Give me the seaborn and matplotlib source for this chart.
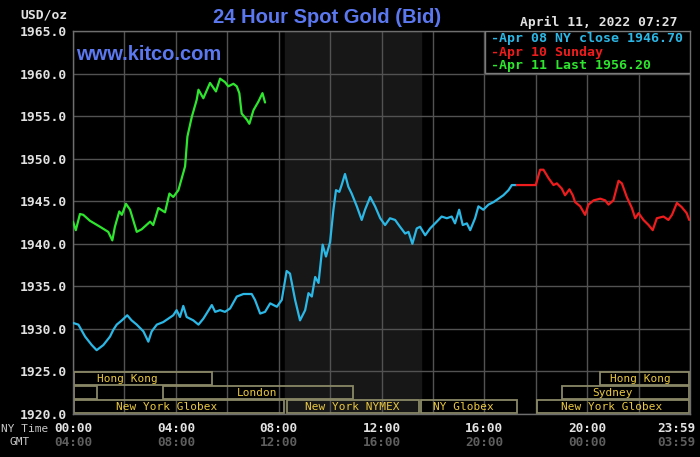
import numpy as np
import pandas as pd
import seaborn as sns
import matplotlib.pyplot as plt
from matplotlib.patches import Rectangle

# price series (hour of NY day, USD/oz)
apr08_hours = [0.0, 0.21, 0.47, 0.73, 0.92, 1.18, 1.44, 1.57, 1.7, 1.9, 2.11, 2.28, 2.48, 2.74,
               2.93, 3.06, 3.26, 3.51, 3.9, 4.03, 4.16, 4.29, 4.42, 4.68, 4.88, 5.07, 5.4, 5.53,
               5.72, 5.91, 6.11, 6.37, 6.63, 6.95, 7.08, 7.28, 7.47, 7.67, 7.93, 8.12, 8.31, 8.44,
               8.64, 8.83, 9.03, 9.16, 9.29, 9.42, 9.55, 9.71, 9.84, 10.0, 10.13, 10.23, 10.36,
               10.45, 10.58, 10.71, 10.84, 11.04, 11.23, 11.36, 11.56, 11.75, 11.95, 12.14, 12.33,
               12.53, 12.72, 12.92, 13.05, 13.2, 13.37, 13.5, 13.7, 13.89, 14.15, 14.34, 14.54,
               14.73, 14.86, 15.02, 15.16, 15.32, 15.45, 15.64, 15.77, 15.96, 16.16, 16.36, 16.55,
               16.74, 16.94, 17.07, 17.26]
apr08_price = [1930.7, 1930.5, 1929.1, 1928.1, 1927.5, 1928.1, 1929.1, 1929.9, 1930.5, 1931.0,
               1931.6, 1931.0, 1930.5, 1929.7, 1928.5, 1929.7, 1930.5, 1930.8, 1931.6, 1932.2,
               1931.4, 1932.7, 1931.4, 1931.0, 1930.5, 1931.2, 1932.8, 1932.0, 1932.2, 1932.0,
               1932.4, 1933.8, 1934.1, 1934.1, 1933.4, 1931.8, 1932.0, 1933.0, 1932.6, 1933.4,
               1936.8, 1936.5, 1933.4, 1931.0, 1932.2, 1934.2, 1933.8, 1936.1, 1935.4, 1939.9,
               1938.5, 1940.2, 1944.0, 1946.3, 1946.1, 1946.9, 1948.2, 1946.7, 1945.9, 1944.4,
               1942.8, 1944.0, 1945.5, 1944.4, 1943.0, 1942.2, 1943.0, 1942.8, 1942.0, 1941.2,
               1941.4, 1940.0, 1941.8, 1942.0, 1941.0, 1941.8, 1942.6, 1943.2, 1943.0, 1943.2,
               1942.4, 1944.0, 1942.2, 1942.4, 1941.6, 1943.0, 1944.4, 1944.0, 1944.6, 1944.9,
               1945.3, 1945.7, 1946.3, 1946.9, 1946.9]

apr10_hours = [17.26, 18.0, 18.17, 18.3, 18.5, 18.69, 18.82, 19.01, 19.14, 19.31, 19.44, 19.53,
               19.73, 19.92, 20.05, 20.25, 20.51, 20.7, 20.83, 21.02, 21.22, 21.35, 21.54, 21.74,
               21.87, 22.0, 22.19, 22.39, 22.55, 22.71, 22.97, 23.16, 23.3, 23.49, 23.68, 23.87,
               23.97]
apr10_price = [1946.9, 1946.9, 1948.7, 1948.7, 1947.7, 1946.9, 1947.1, 1946.5, 1945.7, 1946.4,
               1945.7, 1944.9, 1944.4, 1943.4, 1944.6, 1945.1, 1945.3, 1945.1, 1944.6, 1945.1,
               1947.4, 1947.1, 1945.5, 1944.2, 1943.0, 1943.6, 1942.8, 1942.2, 1941.6, 1943.0,
               1943.2, 1942.8, 1943.4, 1944.8, 1944.3, 1943.6, 1942.8]

apr11_hours = [0.0, 0.11, 0.27, 0.4, 0.66, 1.05, 1.37, 1.53, 1.63, 1.8, 1.9, 2.06, 2.22, 2.48,
               2.67, 3.0, 3.12, 3.32, 3.58, 3.75, 3.9, 4.1, 4.36, 4.45, 4.62, 4.81, 4.88, 5.07,
               5.33, 5.56, 5.72, 5.91, 6.04, 6.24, 6.37, 6.47, 6.56, 6.76, 6.86, 7.02, 7.21, 7.37,
               7.47]
apr11_price = [1942.6, 1941.6, 1943.5, 1943.4, 1942.7, 1942.0, 1941.4, 1940.4, 1942.0, 1943.8,
               1943.4, 1944.7, 1944.0, 1941.4, 1941.7, 1942.6, 1942.2, 1944.2, 1943.7, 1945.9,
               1945.5, 1946.3, 1949.1, 1952.6, 1954.9, 1956.9, 1958.1, 1957.1, 1958.9, 1957.9,
               1959.4, 1959.0, 1958.5, 1958.8, 1958.5, 1957.7, 1955.3, 1954.6, 1954.1, 1955.7,
               1956.7, 1957.7, 1956.6]

series_names = ["Apr 08", "Apr 10", "Apr 11"]
series_colors = ["#2bb8e6", "#ee1c1c", "#2ee62e"]
legend_labels = ["-Apr 08 NY close 1946.70", "-Apr 10 Sunday", "-Apr 11 Last 1956.20"]

# trading sessions: (label, start hour, end hour, row, label centre hour)
sessions = [
    ("Hong Kong", 0.0, 5.45, 2, 2.1),
    ("", 0.0, 0.97, 1, None),
    ("London", 3.47, 10.95, 1, 7.16),
    ("New York Globex", 0.0, 8.25, 0, 3.66),
    ("New York NYMEX", 8.3, 13.5, 0, 10.86),
    ("NY Globex", 13.5, 17.32, 0, 15.18),
    ("Hong Kong", 20.47, 24.0, 2, 22.06),
    ("Sydney", 19.0, 24.0, 1, 20.97),
    ("New York Globex", 18.0, 24.0, 0, 20.97),
]
nymex_open, nymex_close = 8.25, 13.54

tick_hours = [0, 4, 8, 12, 16, 20, 23.983]
ny_labels = ["00:00", "04:00", "08:00", "12:00", "16:00", "20:00", "23:59"]
gmt_labels = ["04:00", "08:00", "12:00", "16:00", "20:00", "00:00", "03:59"]

df = pd.concat([
    pd.DataFrame({"hour": h, "price": p, "day": n})
    for h, p, n in zip([apr08_hours, apr10_hours, apr11_hours],
                       [apr08_price, apr10_price, apr11_price], series_names)
])

sns.set_theme(style="darkgrid", rc={
    "figure.facecolor": "black", "axes.facecolor": "black",
    "axes.edgecolor": "#6e6e6e", "grid.color": "#525252", "grid.linewidth": 1.0,
})
plt.rcParams["font.family"] = ["DejaVu Sans Mono"]

W, H = 700, 457
fig = plt.figure(figsize=(W / 100, H / 100), dpi=100)
ax = fig.add_axes([73 / W, 1 - 414 / H, 617 / W, 383 / H])

def fx(px):
    return px / W

def fy(py):
    return 1 - py / H

ax.axvspan(nymex_open, nymex_close, color="#171717", zorder=0)
sns.lineplot(data=df, x="hour", y="price", hue="day", palette=dict(zip(series_names, series_colors)),
             linewidth=1.6, legend=False, ax=ax, zorder=3)

ax.set_xlim(0, 24)
ax.set_ylim(1920, 1965)
ax.set_xticks(np.arange(0, 25, 2))
ax.set_xticklabels([])
ax.set_yticks(np.arange(1920, 1966, 5))
ax.set_yticklabels([f"{v:.1f}" for v in np.arange(1920, 1966, 5)], color="#e2e2e2",
                   fontsize=9.4, fontweight="bold")
ax.tick_params(length=0, pad=4)
ax.set_xlabel("")
ax.set_ylabel("")
for s in ax.spines.values():
    s.set_visible(True)
    s.set_color("#6e6e6e")
    s.set_linewidth(1.0)

# session boxes along the bottom
row_y = [1920.1, 1921.75, 1923.4]
for label, a, b, row, cx in sessions:
    ax.add_patch(Rectangle((a + 0.04, row_y[row]), b - a - 0.08, 1.5, fill=False,
                           edgecolor="#8a8866", linewidth=1.3, zorder=2))
    if label:
        ax.text(cx, row_y[row] + 0.75, label, ha="center", va="center", color="#eac83f",
                fontsize=8, zorder=4)

# legend box
ax.add_patch(Rectangle((16.03, 1960.07), 7.97, 4.93, facecolor="black", edgecolor="#7a7a7a",
                       linewidth=1.0, zorder=4))
for i, (txt, c) in enumerate(zip(legend_labels, series_colors)):
    fig.text(fx(491), fy(38.5 + 13.7 * i), txt, color=c, fontsize=9.5, fontweight="bold",
             ha="left", va="center")

# x labels: NY time and GMT
for h, ny, gmt in zip(tick_hours, ny_labels, gmt_labels):
    px = 73 + h * 617 / 24 if h < 23 else 676
    fig.text(fx(px), fy(429), ny, ha="center", va="center", color="#e2e2e2",
             fontsize=9.2, fontweight="bold")
    fig.text(fx(px), fy(442), gmt, ha="center", va="center", color="#5e5e5e",
             fontsize=9.2, fontweight="bold")
fig.text(fx(48), fy(429), "NY Time", ha="right", va="center", color="#c8c8c8", fontsize=8)
fig.text(fx(30), fy(442), "GMT", ha="right", va="center", color="#c8c8c8", fontsize=8)

# header texts
fig.text(fx(68), fy(15), "USD/oz", ha="right", va="center", color="#e2e2e2", fontsize=9.4,
         fontweight="bold")
fig.text(fx(327), fy(17.5), "24 Hour Spot Gold (Bid)", ha="center", va="center",
         color="#5b78f0", fontsize=14.5, fontweight="bold", family=["Liberation Sans"])
fig.text(fx(76), fy(54), "www.kitco.com", ha="left", va="center", color="#5b78f0",
         fontsize=14.5, fontweight="bold", family=["Liberation Sans"])
fig.text(fx(678), fy(22.7), "April 11, 2022 07:27", ha="right", va="center", color="#e2e2e2",
         fontsize=9.4, fontweight="bold")

fig.savefig("out.png", dpi=100, facecolor="black")
